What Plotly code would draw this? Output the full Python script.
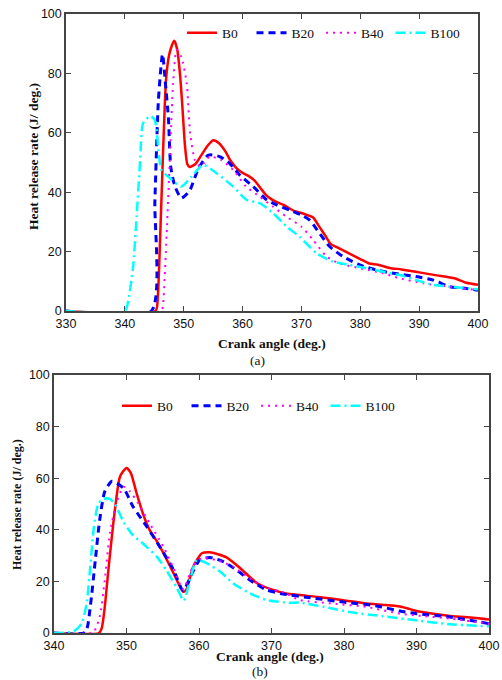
import plotly.graph_objects as go

# ---------------- data: panel (a) ----------------
a_b0_x = [330, 345.2, 345.6, 346.0, 346.5, 347.0, 347.5, 348.0, 348.4, 348.9, 349.4, 349.8, 350.2, 350.6, 351.0,
          352.0, 353.0, 354.0, 355.0, 356.0, 357.0, 358.0, 359.0, 360.0, 361.0, 362.0, 363.0, 364.0, 365.0,
          366.0, 367.0, 368.0, 369.0, 370.0, 371.0, 372.0, 373.0, 374.0, 375.0, 376.0, 378.0, 380.0, 381.5,
          383.0, 385.0, 387.0, 390.0, 393.0, 396.0, 398.0, 400.0]
a_b0_y = [0, 0, 5, 25, 54, 78, 86, 89.5, 91, 88, 79, 68, 56, 49.5, 48.5,
          49.5, 52.5, 55.5, 57.5, 56.5, 54, 50.5, 48, 46.5, 45.5, 44, 41.5, 39, 37.5,
          36.5, 35.7, 34.5, 33.5, 33, 32.3, 31.5, 28.5, 25.5, 22.5, 21.5, 19.5, 17.5, 16,
          15.6, 14.5, 14, 13, 12, 11, 9.5, 8.8]

a_b20_x = [330, 344.5, 345.1, 345.7, 346.4, 346.9, 347.4, 347.8, 348.5, 349.6, 351.0, 352.5, 354.2, 356.1,
           357.8, 359.5, 361.8, 364.1, 365.8, 368.0, 370.0, 371.4, 373.1, 374.8, 377.1, 379.9, 382.7,
           385.6, 389.5, 392.4, 395.2, 398.0, 400.0]
a_b20_y = [0, 0, 37, 71, 86.5, 76.5, 65, 48.5, 42, 38, 40.5, 48, 52.5, 52,
           49.7, 45.8, 41.9, 37.4, 35.7, 34, 32.3, 30.6, 26.1, 21.7, 18.3, 15.5, 13.8,
           12.7, 11.6, 10.4, 8.2, 7.6, 7]

a_b40_x = [330, 346.2, 346.5, 347.1, 347.7, 348.2, 348.8, 349.6, 350.5, 351.1, 351.9, 352.8, 354.4, 356.4,
           358.4, 360.6, 362.9, 365.2, 367.4, 370.0, 372.0, 374.3, 376.5, 379.9, 383.9, 386.7, 390.7,
           395.2, 400.0]
a_b40_y = [0, 0, 2.6, 26, 54, 76.7, 87.9, 85.6, 76.7, 59.8, 50.8, 48.6, 52, 50.8,
           47.5, 41.9, 38.5, 35.1, 31.8, 28.4, 23.9, 18.3, 16, 14.4, 12.7, 11, 9.3,
           8.2, 7]

a_b100_x = [330, 340.0, 340.6, 341.4, 342.0, 342.6, 343.1, 344.3, 345.1, 345.7, 346.2, 347.4, 349.6, 351.3,
            353.3, 355.6, 358.4, 360.7, 362.9, 365.2, 367.5, 369.7, 372.6, 375.4, 378.2, 381.0, 383.9,
            386.7, 389.5, 392.4, 395.2, 400.0]
a_b100_y = [0, 0, 3.7, 14.9, 31.8, 50.8, 63.2, 65.6, 64.3, 54.2, 47.5, 45.2, 41.9, 45.2,
            49.2, 46.4, 41.9, 37.4, 36.3, 32.9, 28.4, 25, 19.4, 16.6, 15.5, 14.4, 13.2,
            12.1, 10.4, 8.8, 8.2, 7.3]

# ---------------- data: panel (b) ----------------
b_b0_x = [340, 346.2, 346.6, 347.0, 347.5, 348.4, 349.1, 350.0, 350.6, 351.4, 352.3, 353.2, 354.2, 355.1,
          356.5, 357.8, 358.2, 359.2, 360.4, 361.5, 362.5, 363.8, 365.7, 368.0, 370.2, 372.0, 373.9,
          377.0, 379.9, 383.1, 385.5, 387.7, 388.8, 390.0, 392.3, 395.1, 397.8, 400.0]
b_b0_y = [0, 0, 2, 10, 24.4, 47.7, 60.6, 64, 62, 54.1, 46, 39.9, 35.5, 30.9,
          23.1, 16, 16.5, 25.7, 30.9, 31.3, 30.6, 29.3, 25.1, 19.3, 16.7, 15.3, 14.7,
          13.8, 12.7, 11.4, 10.9, 10.3, 9.5, 8.5, 7.5, 6.5, 5.9, 5.2]

b_b20_x = [340, 344.3, 345.0, 345.7, 346.3, 347.0, 348.0, 349.6, 350.9, 352.8, 354.6, 356.5, 357.8,
           359.2, 360.1, 361.5, 363.4, 365.2, 367.0, 369.3, 371.6, 375.0, 379.9, 384.5, 387.7, 390.0,
           394.6, 400.0]
b_b20_y = [0, 0.3, 10.2, 28.3, 43.8, 54.8, 58.8, 56.1, 49, 41.2, 33.4, 24.4, 16.5,
           24, 28.3, 29.3, 27.6, 24.4, 20.5, 16.7, 15.1, 13.8, 12, 10.5, 8.5, 7.5,
           6.2, 3.6]

b_b40_x = [340, 345.4, 346.3, 347.0, 347.7, 348.6, 349.6, 350.5, 351.6, 353.2, 355.1, 356.5, 357.8,
           359.2, 360.4, 362.4, 364.7, 367.0, 369.3, 371.6, 373.9, 378.5, 383.1, 387.7, 390.0, 394.6,
           400.0]
b_b40_y = [0, 0.3, 6.3, 20.5, 38.6, 50.3, 56.7, 54.8, 50.3, 42.5, 33.4, 25, 17,
           26, 29, 28.3, 25.7, 21.2, 17.6, 15.8, 12.8, 11.4, 10.1, 7.5, 6.8, 5.6,
           3.6]

b_b100_x = [340, 342.7, 343.8, 344.5, 345.0, 345.5, 346.1, 346.8, 347.7, 348.4, 349.6, 350.9, 352.3,
            354.2, 355.5, 356.9, 357.9, 358.8, 359.7, 361.1, 362.9, 364.7, 367.0, 369.3, 372.6, 373.9,
            378.5, 380.8, 385.4, 390.0, 394.6, 400.0]
b_b100_y = [0, 0.6, 3.6, 11.4, 25.6, 41, 50, 52, 52, 50, 43, 37.9, 34.6,
            29.5, 24.3, 17.8, 12.5, 21, 28.3, 27, 23.8, 19.3, 15.4, 12.8, 11.7, 11.8,
            9.4, 8.1, 6.5, 4.9, 3.4, 2.6]

series_names = ["B0", "B20", "B40", "B100"]
x_ticks_a = [330, 340, 350, 360, 370, 380, 390, 400]
x_ticks_b = [340, 350, 360, 370, 380, 390, 400]
y_ticks = [0, 20, 40, 60, 80, 100]

# ---------------- styling ----------------
W, H = 502, 680
styles = [
    dict(color="#ff0000", width=2.5, dash="solid"),
    dict(color="#0000ff", width=3, dash="7px,5px"),
    dict(color="#ff00ff", width=2, dash="2px,5px"),
    dict(color="#00ffff", width=2.5, dash="10px,4px,2px,4px"),
]

def px_x(p):
    return p / W

def px_y(p):
    return 1 - p / H

fig = go.Figure()
panel_a = [(a_b0_x, a_b0_y), (a_b20_x, a_b20_y), (a_b40_x, a_b40_y), (a_b100_x, a_b100_y)]
panel_b = [(b_b0_x, b_b0_y), (b_b20_x, b_b20_y), (b_b40_x, b_b40_y), (b_b100_x, b_b100_y)]

for (xs, ys), name, st in zip(panel_a, series_names, styles):
    fig.add_trace(go.Scatter(x=xs, y=ys, name=name, mode="lines", line=dict(shape="spline", smoothing=0.6, **st),
                             xaxis="x", yaxis="y", legend="legend"))
for (xs, ys), name, st in zip(panel_b, series_names, styles):
    fig.add_trace(go.Scatter(x=xs, y=ys, name=name, mode="lines", line=dict(shape="spline", smoothing=0.6, **st),
                             xaxis="x2", yaxis="y2", legend="legend2"))

tick_font = dict(family="Liberation Sans, Arial, sans-serif", size=12.5, color="#111111")
axis_common = dict(showline=True, linecolor="#444444", linewidth=1.5, mirror="ticks",
                   ticks="inside", ticklen=5, tickcolor="#444444", tickwidth=1,
                   showgrid=False, zeroline=False, tickfont=tick_font, layer="below traces",
                   automargin=False)

legend_font = dict(family="Liberation Serif, Times New Roman, serif", size=13.5, color="#111111")
fig.update_layout(
    width=W, height=H,
    margin=dict(l=0, r=0, t=0, b=0, autoexpand=False),
    paper_bgcolor="white", plot_bgcolor="white",
    xaxis=dict(domain=[px_x(66), px_x(478)], range=[330, 400], tickvals=x_ticks_a, anchor="y", **axis_common),
    yaxis=dict(domain=[px_y(311), px_y(14)], range=[0, 100], tickvals=y_ticks, anchor="x", **axis_common),
    xaxis2=dict(domain=[px_x(54), px_x(489)], range=[340, 400], tickvals=x_ticks_b, anchor="y2", **axis_common),
    yaxis2=dict(domain=[px_y(633), px_y(375)], range=[0, 100], tickvals=y_ticks, anchor="x2", **axis_common),
    legend=dict(orientation="h", x=px_x(182), y=px_y(33), xanchor="left", yanchor="middle",
                bgcolor="rgba(0,0,0,0)", entrywidth=24.5, entrywidthmode="pixels", font=legend_font),
    legend2=dict(orientation="h", x=px_x(117), y=px_y(406), xanchor="left", yanchor="middle",
                 bgcolor="rgba(0,0,0,0)", entrywidth=24.5, entrywidthmode="pixels", font=legend_font),
    showlegend=True,
)

title_font = dict(family="Liberation Serif, Times New Roman, serif", size=13.5, color="#111111")
cap_font = dict(family="Liberation Serif, Times New Roman, serif", size=13.5, color="#111111")
ann = [
    dict(text="<b>Crank angle (deg.)</b>", x=px_x(271.5), y=px_y(343), font=title_font),
    dict(text="(a)", x=px_x(257), y=px_y(360), font=cap_font),
    dict(text="<b>Heat release rate (J/ deg.)</b>", x=px_x(33), y=px_y(157), textangle=-90, font=title_font),
    dict(text="<b>Crank angle (deg.)</b>", x=px_x(269.5), y=px_y(656), font=title_font),
    dict(text="(b)", x=px_x(260), y=px_y(671), font=cap_font),
    dict(text="<b>Heat release rate (J/ deg.)</b>", x=px_x(17), y=px_y(505), textangle=-90,
         font=dict(family="Liberation Serif, Times New Roman, serif", size=12, color="#111111")),
]
for a in ann:
    a.update(xref="paper", yref="paper", showarrow=False, xanchor="center", yanchor="middle")
    fig.add_annotation(**a)

fig.write_html("out.html", config={"displayModeBar": False},
               post_script="document.body.style.margin='0';document.body.style.overflow='hidden';")
